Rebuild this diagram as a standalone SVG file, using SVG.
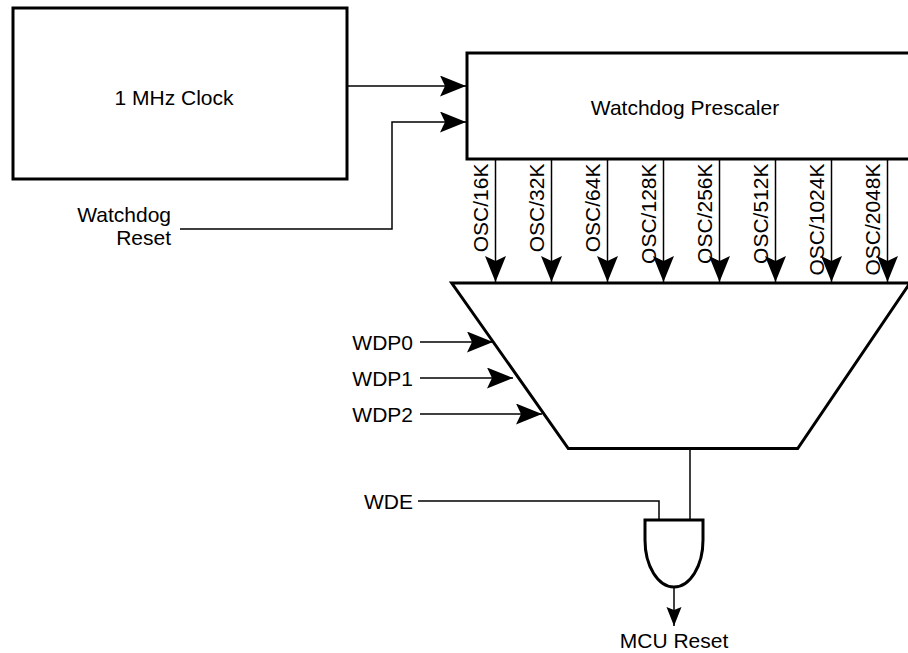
<svg xmlns="http://www.w3.org/2000/svg" width="908" height="653" viewBox="0 0 908 653">
<style>
  .box{fill:#fff;stroke:#000;stroke-width:3}
  .wire{fill:none;stroke:#000;stroke-width:1.5}
  .lbl{font-family:"Liberation Sans",Arial,Helvetica,sans-serif;font-size:21px;fill:#000}
  .mid{text-anchor:middle}
  .end{text-anchor:end}
</style>
<defs>
  <marker id="big" markerUnits="userSpaceOnUse" markerWidth="27" markerHeight="22" refX="26" refY="10.5" orient="auto">
    <path d="M0,0 L26,10.5 L0,21 L5,10.5 Z" fill="#000"/>
  </marker>
  <marker id="small" markerUnits="userSpaceOnUse" markerWidth="20" markerHeight="16" refX="19" refY="7.5" orient="auto">
    <path d="M0,0 L19,7.5 L0,15 L3,7.5 Z" fill="#000"/>
  </marker>
</defs>
<rect width="908" height="653" fill="#fff"/>

<g id="connectors">
  <path class="wire" d="M347,86 H466" marker-end="url(#big)"/>
  <path class="wire" d="M180,229 H392 V122 H466" marker-end="url(#big)"/>
  <path class="wire" d="M495.5,159 V282" marker-end="url(#big)"/>
  <path class="wire" d="M551.5,159 V282" marker-end="url(#big)"/>
  <path class="wire" d="M607.5,159 V282" marker-end="url(#big)"/>
  <path class="wire" d="M663.5,159 V282" marker-end="url(#big)"/>
  <path class="wire" d="M719.5,159 V282" marker-end="url(#big)"/>
  <path class="wire" d="M775.5,159 V282" marker-end="url(#big)"/>
  <path class="wire" d="M831.5,159 V282" marker-end="url(#big)"/>
  <path class="wire" d="M887.5,159 V282" marker-end="url(#big)"/>
  <path class="wire" d="M420,342 H493" marker-end="url(#big)"/>
  <path class="wire" d="M420,378 H513" marker-end="url(#big)"/>
  <path class="wire" d="M420,414 H542" marker-end="url(#big)"/>
  <path class="wire" d="M418,501 H659 V520"/>
  <path class="wire" d="M690,448 V520"/>
  <path class="wire" d="M674,587 V626" marker-end="url(#small)"/>
</g>

<g id="clock">
  <rect class="box" x="13" y="8" width="334" height="171"/>
  <text class="lbl mid" x="174" y="105">1 MHz Clock</text>
</g>

<g id="prescaler">
  <rect class="box" x="467" y="53" width="460" height="106"/>
  <text class="lbl mid" x="685" y="115">Watchdog Prescaler</text>
</g>

<g id="osc-labels">
  <text class="lbl end" transform="translate(488,163.5) rotate(-90)">OSC/16K</text>
  <text class="lbl end" transform="translate(544,163.5) rotate(-90)">OSC/32K</text>
  <text class="lbl end" transform="translate(600,163.5) rotate(-90)">OSC/64K</text>
  <text class="lbl end" transform="translate(656,163.5) rotate(-90)">OSC/128K</text>
  <text class="lbl end" transform="translate(712,163.5) rotate(-90)">OSC/256K</text>
  <text class="lbl end" transform="translate(768,163.5) rotate(-90)">OSC/512K</text>
  <text class="lbl end" transform="translate(824,163.5) rotate(-90)">OSC/1024K</text>
  <text class="lbl end" transform="translate(880,163.5) rotate(-90)">OSC/2048K</text>
</g>

<g id="watchdog-reset">
  <text class="lbl end" x="171" y="222">Watchdog</text>
  <text class="lbl end" x="171" y="245">Reset</text>
</g>

<g id="mux">
  <path class="box" d="M451.7,283 H910 L797.7,448.5 H568.3 Z"/>
</g>

<g id="wdp-inputs">
  <text class="lbl end" x="413" y="350">WDP0</text>
  <text class="lbl end" x="413" y="386">WDP1</text>
  <text class="lbl end" x="413" y="422">WDP2</text>
</g>

<g id="wde">
  <text class="lbl end" x="413" y="509">WDE</text>
</g>

<g id="and-gate">
  <path class="box" d="M645,520 H703 V540 A29,47 0 0 1 645,540 Z"/>
</g>

<g id="mcu-reset">
  <text class="lbl mid" x="674" y="648">MCU Reset</text>
</g>
</svg>
